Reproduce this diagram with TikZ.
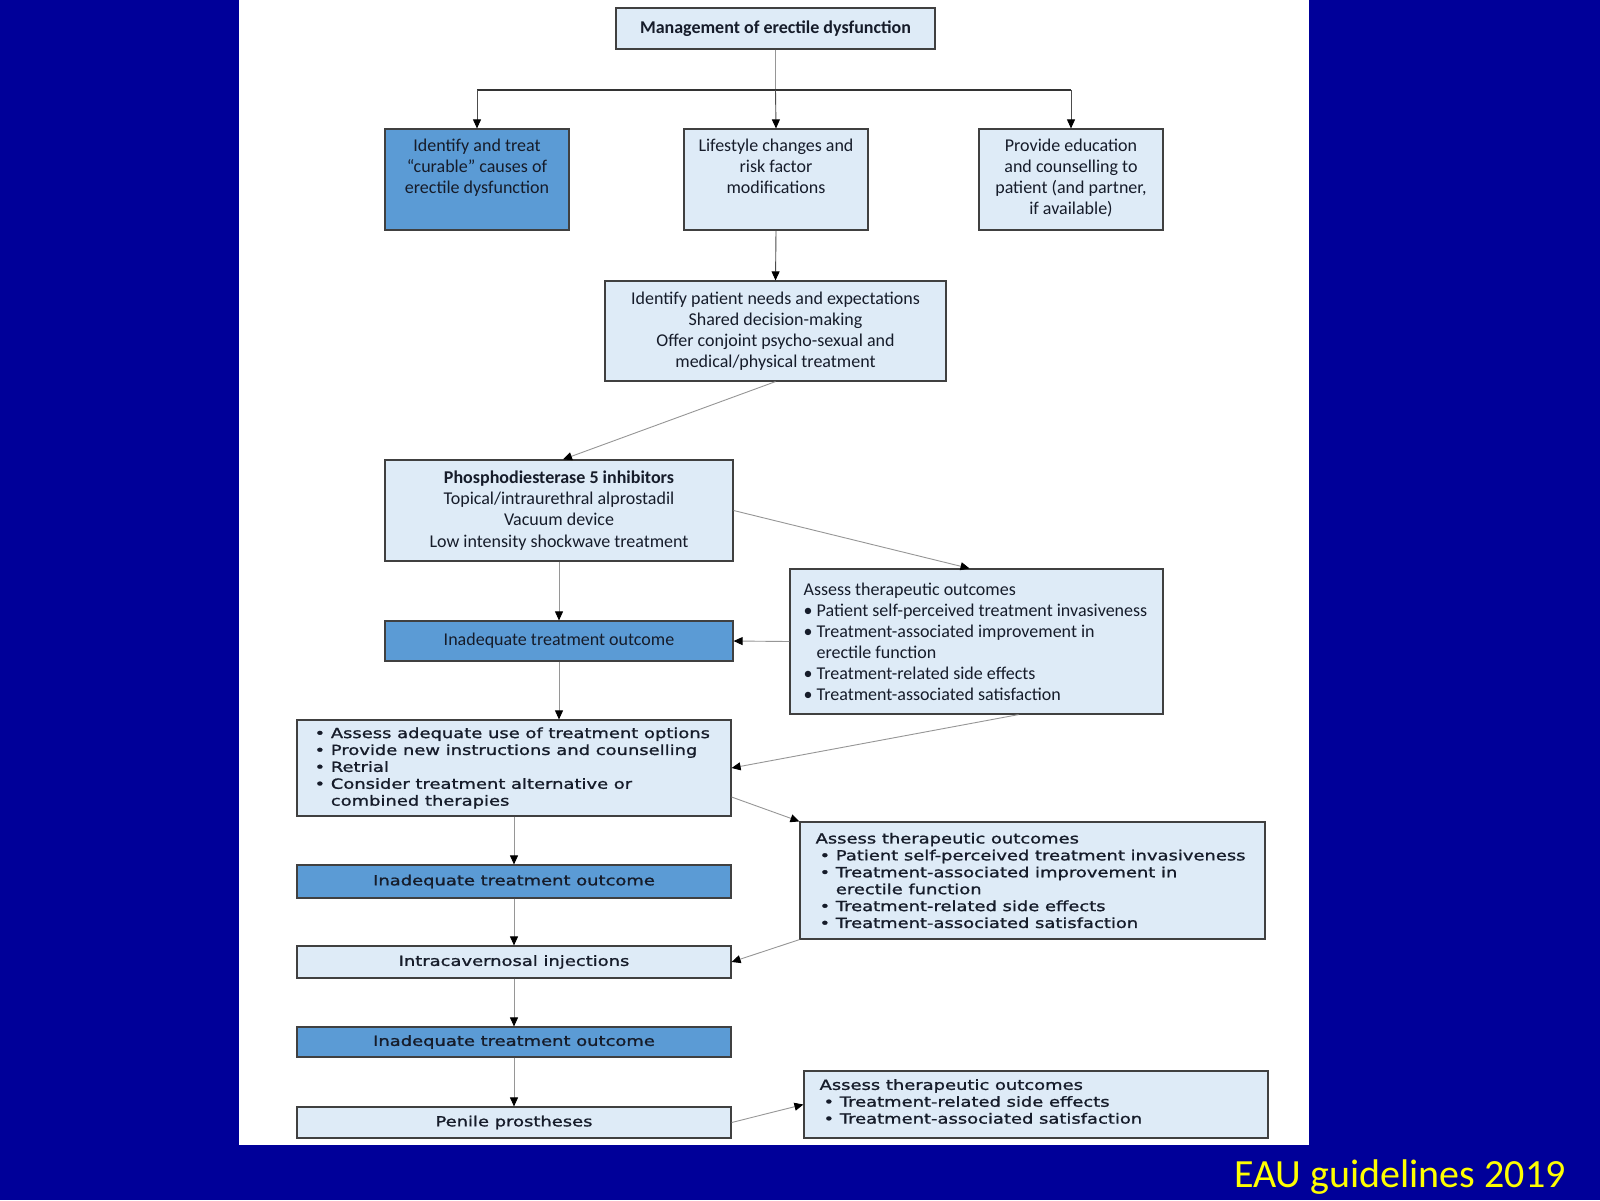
\documentclass[tikz,border=0pt]{standalone}
\usepackage{fontspec}
\setmainfont{Carlito}
\newfontfamily\vfont[FakeStretch=1.28,FakeBold=1.2]{DejaVu Sans}
\usetikzlibrary{arrows.meta,shadows,calc}
\definecolor{bgblue}{RGB}{0,0,153}
\definecolor{lightbox}{RGB}{222,235,247}
\definecolor{darkbox}{RGB}{91,155,213}
\definecolor{txtc}{RGB}{22,28,42}
\definecolor{conncol}{RGB}{150,150,150}
\definecolor{eauyellow}{RGB}{255,255,0}
\begin{document}
\begin{tikzpicture}[x=1pt,y=-1pt,
  box/.style={draw=black!75, line width=1.2pt, fill=lightbox, inner sep=0pt,
    drop shadow={shadow xshift=1.2pt,shadow yshift=-1.2pt,opacity=0.35}},
  dbox/.style={box, fill=darkbox},
  ctxt/.style={inner sep=0pt, align=center, text=txtc, font=\fontsize{18}{21.2}\selectfont},
  ltxt/.style={inner sep=0pt, align=left, text=txtc, font=\fontsize{18}{21}\selectfont},
  vtxt/.style={inner sep=0pt, align=left, text=txtc, font=\vfont\fontsize{14}{16.9}\selectfont},
  vctxt/.style={align=center, text=txtc, font=\vfont\fontsize{14}{16.9}\selectfont},
  conn/.style={draw=conncol, line width=0.9pt, -{Triangle[width=8pt,length=9pt,color=black]}},
]
\useasboundingbox (0,0) rectangle (1600,1200);
\fill[bgblue] (0,0) rectangle (1600,1200);
\fill[white] (239,0) rectangle (1309,1145);

% boxes
\node[box, minimum width=319pt, minimum height=41pt, ctxt, font=\bfseries\fontsize{18}{21}\selectfont] (b1) at (775.5,28.5) {Management of erectile dysfunction};
\node[dbox, minimum width=184pt, minimum height=101pt] (b2) at (477,179.5) {};
\node[box, minimum width=184pt, minimum height=101pt] (b3) at (776,179.5) {};
\node[box, minimum width=184pt, minimum height=101pt] (b4) at (1071,179.5) {};
\node[ctxt, anchor=north] (t2) at ([yshift=-10pt]b2.north) {Identify and treat\\``curable'' causes of\\erectile dysfunction};
\node[ctxt, anchor=north] (t3) at ([yshift=-10pt]b3.north) {Lifestyle changes and\\risk factor\\modifications};
\node[ctxt, anchor=north] (t4) at ([yshift=-10pt]b4.north) {Provide education\\and counselling to\\patient (and partner,\\if available)};

\node[box, ctxt, inner sep=0pt, minimum width=341pt, minimum height=100pt] (b5) at (775.5,331) {Identify patient needs and expectations\\Shared decision-making\\Offer conjoint psycho-sexual and\\medical/physical treatment};

\node[box, ctxt, inner sep=0pt, minimum width=348pt, minimum height=101pt] (b6) at (559,510.5) {\textbf{Phosphodiesterase 5 inhibitors}\\Topical/intraurethral alprostadil\\Vacuum device\\Low intensity shockwave treatment};

\node[box, minimum width=373pt, minimum height=145pt] (b7) at (976.5,641.5) {};
\node[ltxt, anchor=west] (t7) at ([xshift=14pt]b7.west) {Assess therapeutic outcomes\\
\textbullet\ Patient self-perceived treatment invasiveness\\
\textbullet\ Treatment-associated improvement in\\
\phantom{\textbullet\ }erectile function\\
\textbullet\ Treatment-related side effects\\
\textbullet\ Treatment-associated satisfaction};

\node[dbox, ctxt, inner sep=0pt, minimum width=348pt, minimum height=40pt] (b8) at (559,641) {Inadequate treatment outcome};

\node[box, minimum width=434pt, minimum height=96pt] (b9) at (514,768) {};
\node[vtxt, anchor=west] (t9) at ([xshift=18pt]b9.west) {\textbullet\ Assess adequate use of treatment options\\
\textbullet\ Provide new instructions and counselling\\
\textbullet\ Retrial\\
\textbullet\ Consider treatment alternative or\\
\phantom{\textbullet\ }combined therapies};

\node[box, minimum width=465pt, minimum height=117pt] (b10) at (1032.5,880.5) {};
\node[vtxt, anchor=west] (t10) at ([xshift=16pt]b10.west) {Assess therapeutic outcomes\\
\hspace*{4pt}\textbullet\ Patient self-perceived treatment invasiveness\\
\hspace*{4pt}\textbullet\ Treatment-associated improvement in\\
\hspace*{4pt}\phantom{\textbullet\ }erectile function\\
\hspace*{4pt}\textbullet\ Treatment-related side effects\\
\hspace*{4pt}\textbullet\ Treatment-associated satisfaction};

\node[dbox, vctxt, inner sep=0pt, minimum width=434pt, minimum height=33pt] (b11) at (514,881.5) {Inadequate treatment outcome};
\node[box, vctxt, inner sep=0pt, minimum width=434pt, minimum height=32pt] (b12) at (514,962) {Intracavernosal injections};
\node[dbox, vctxt, inner sep=0pt, minimum width=434pt, minimum height=30pt] (b13) at (514,1042) {Inadequate treatment outcome};
\node[box, vctxt, inner sep=0pt, minimum width=434pt, minimum height=31pt] (b14) at (514,1122.5) {Penile prostheses};

\node[box, minimum width=464pt, minimum height=67pt] (b15) at (1036,1104.5) {};
\node[vtxt, anchor=west] (t15) at ([xshift=16pt,yshift=3pt]b15.west) {Assess therapeutic outcomes\\
\hspace*{4pt}\textbullet\ Treatment-related side effects\\
\hspace*{4pt}\textbullet\ Treatment-associated satisfaction};

\node[text=eauyellow, font=\fontsize{40}{46}\selectfont, inner sep=0pt] (eau) at (1400,1177) {EAU guidelines 2019};

% connectors
\coordinate (hlL) at (477,90);
\coordinate (hlR) at (1071,90);
\draw[draw=conncol, line width=0.9pt] (b1.south) -- (b1.south |- hlL);
\draw[draw=black!80, line width=1.5pt] (hlL) -- (hlR);
\draw[conn, draw=black!70] (hlL) -- (b2.north);
\draw[conn, draw=black!70] (b1.south |- hlL) -- (b3.north);
\draw[conn, draw=black!70] (hlR) -- (b4.north);
\draw[conn, draw=black!70] (b3.south) -- (b5.north);
\draw[conn] (b5.south) -- ([xshift=4pt]b6.north);
\draw[conn] (b6.east) -- ([xshift=-7pt]b7.north);
\draw[conn] (b6.south) -- (b8.north);
\draw[conn] (b7.west) -- (b8.east);
\draw[conn] (b8.south) -- (b8.south |- b9.north);
\draw[conn] ([xshift=42pt]b7.south) -- (b9.east);
\draw[conn] ([yshift=-29pt]b9.east) -- (b10.north west);
\draw[conn] (b9.south) -- (b11.north);
\draw[conn] (b11.south) -- (b12.north);
\draw[conn] (b10.south west) -- (b12.east);
\draw[conn] (b12.south) -- (b13.north);
\draw[conn] (b13.south) -- (b14.north);
\draw[conn] (b14.east) -- (b15.west);
\end{tikzpicture}
\end{document}
